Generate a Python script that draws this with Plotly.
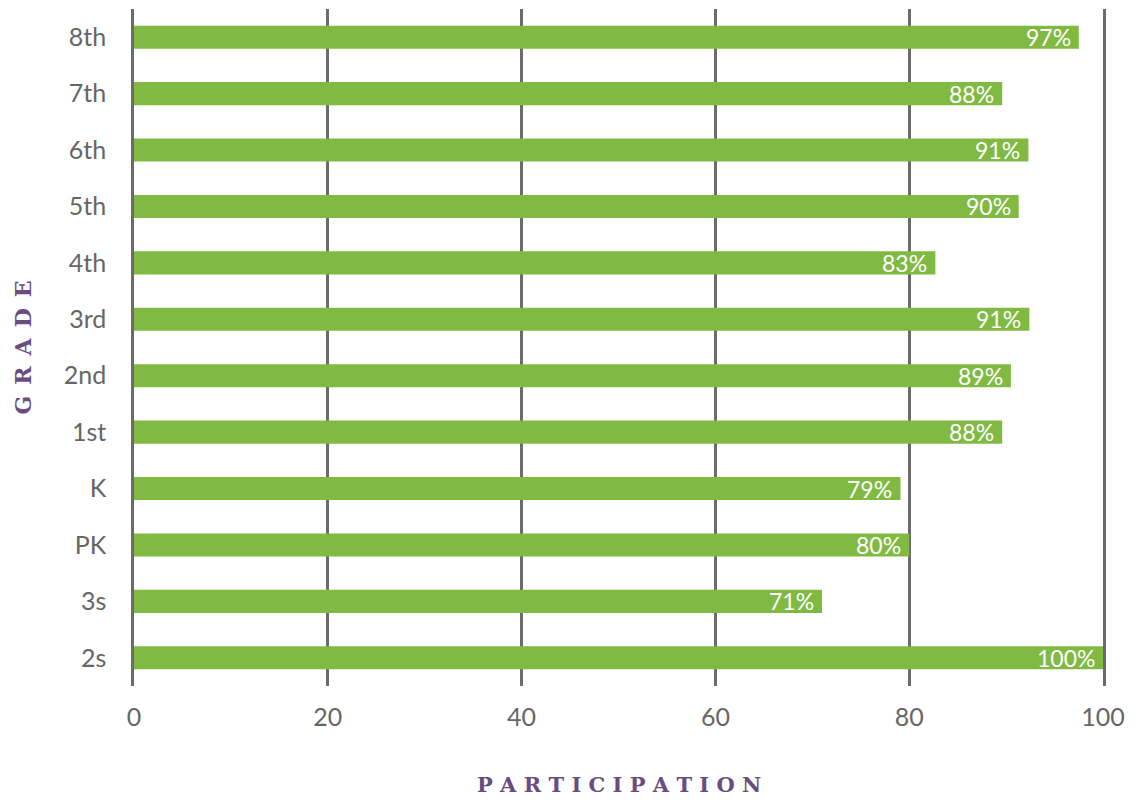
import plotly.graph_objects as go

grades = ["2s", "3s", "PK", "K", "1st", "2nd", "3rd", "4th", "5th", "6th", "7th", "8th"]
values = [100.0, 71.0, 80.0, 79.1, 89.6, 90.5, 92.4, 82.7, 91.3, 92.3, 89.6, 97.5]
labels = ["100%", "71%", "80%", "79%", "88%", "89%", "91%", "83%", "90%", "91%", "88%", "97%"]
x_ticks = [0, 20, 40, 60, 80, 100]

BAR = "#80ba42"
GRID = "#6b6b6b"
TXT = "#666666"
PURPLE = "#6a4c80"

fig = go.Figure(go.Bar(
    x=values, y=grades, orientation="h",
    marker=dict(color=BAR, line=dict(width=0)),
    hoverinfo="skip",
))

annotations = []
for g, v, t in zip(grades, values, labels):
    annotations.append(dict(
        x=v, y=g, xref="x", yref="y", text=t, showarrow=False,
        xanchor="right", yanchor="middle", xshift=-6,
        font=dict(family="Lato", size=23, color="white"),
    ))

annotations.append(dict(
    x=0.5, y=0, xref="paper", yref="paper", xanchor="center", yanchor="middle",
    yshift=-98, showarrow=False,
    text="P A R T I C I P A T I O N",
    font=dict(family="DejaVu Serif", size=21, color=PURPLE, weight="bold"),
))
annotations.append(dict(
    x=0, y=0.5, xref="paper", yref="paper", xanchor="center", yanchor="middle",
    xshift=-112, showarrow=False, textangle=-90,
    text="G\u2002R\u2002A\u2002D\u2002E",
    font=dict(family="DejaVu Serif", size=22, color=PURPLE, weight="bold"),
))

# page body has an 8px margin, so the figure is sized/margined to compensate
fig.update_layout(
    width=1120, height=790,
    margin=dict(l=126, r=25, t=1, b=112),
    paper_bgcolor="white", plot_bgcolor="white",
    bargap=0.59,
    showlegend=False,
    annotations=annotations,
    font=dict(family="Lato", color=TXT),
)
fig.update_xaxes(
    range=[0, 100], tickvals=x_ticks, ticktext=[str(v) for v in x_ticks],
    showgrid=True, gridcolor=GRID, gridwidth=2.5,
    zeroline=False, showline=False, ticks="",
    tickfont=dict(family="Lato", size=25, color=TXT),
    ticklabelstandoff=14,
)
fig.update_yaxes(
    categoryorder="array", categoryarray=grades,
    showgrid=False, zeroline=False,
    showline=True, mirror=True, linecolor=GRID, linewidth=2.5,
    ticks="",
    tickfont=dict(family="Lato", size=25, color=TXT),
    ticklabelstandoff=20,
)

fig.write_html("out.html")
